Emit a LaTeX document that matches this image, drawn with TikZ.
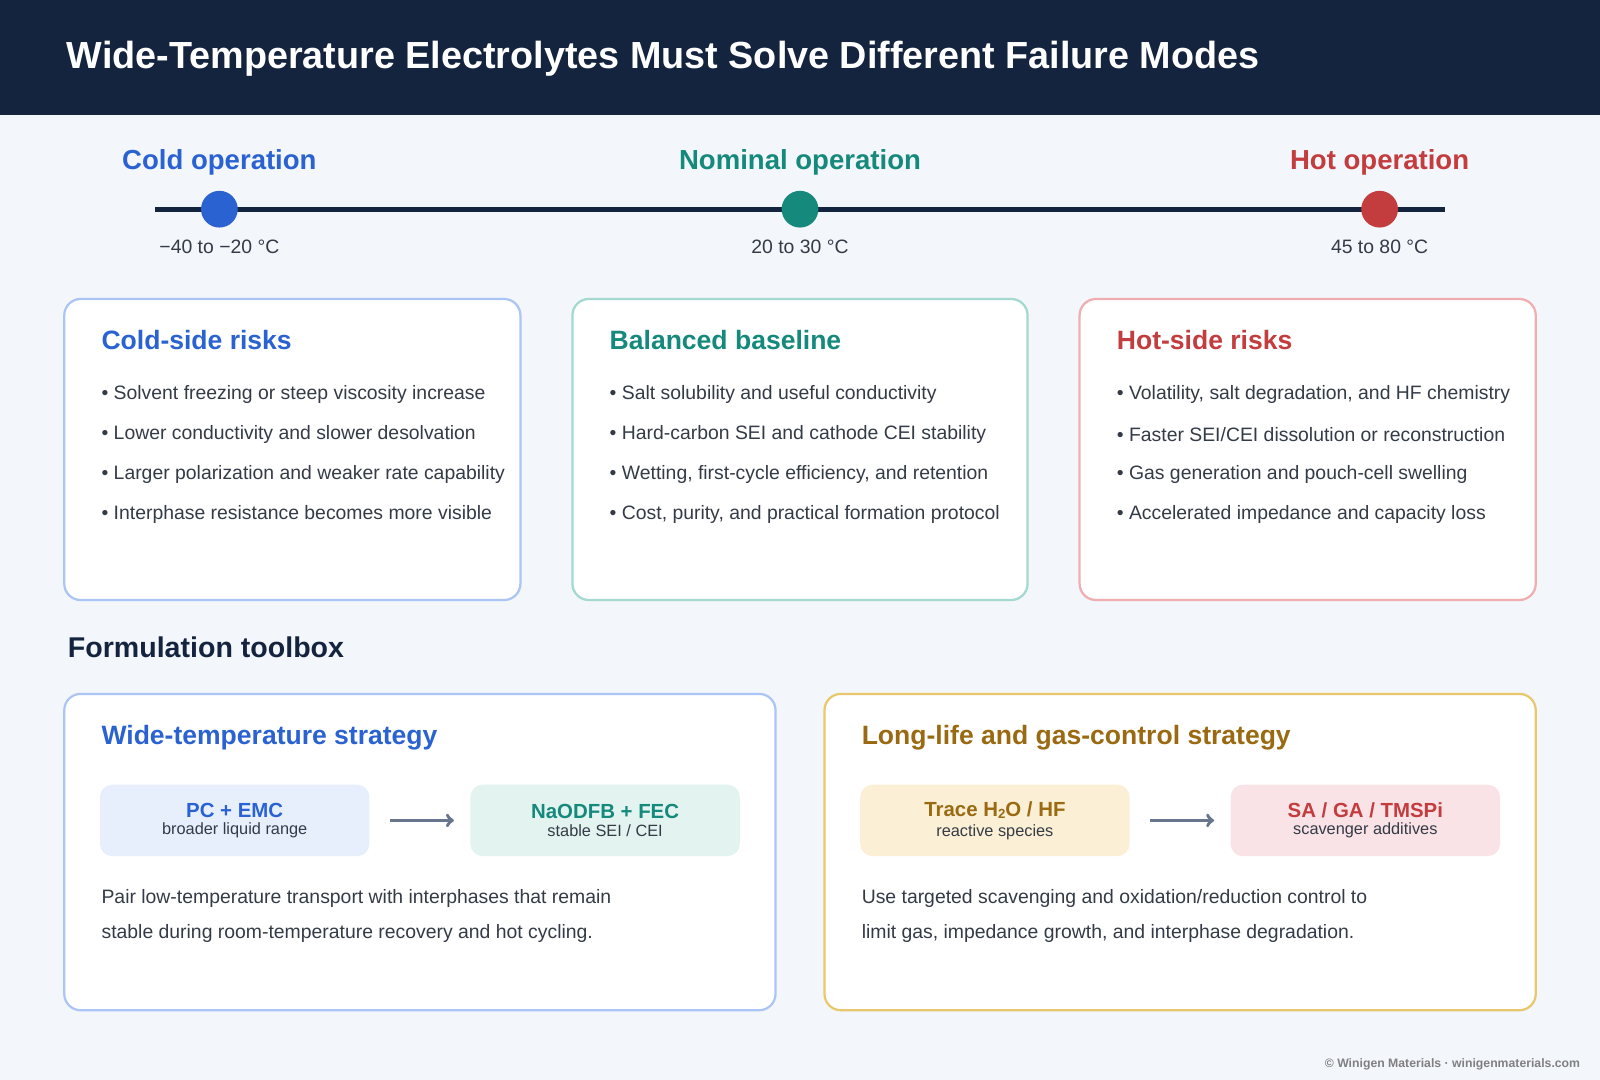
\documentclass[tikz,border=0pt]{standalone}
\usepackage{fontspec}
\setmainfont{Liberation Sans}
\usetikzlibrary{positioning}
\definecolor{navy}{HTML}{14243F}
\definecolor{pagebg}{HTML}{F3F6FB}
\definecolor{coldc}{HTML}{2A62D2}
\definecolor{nomc}{HTML}{14897C}
\definecolor{hotc}{HTML}{C33C3E}
\definecolor{goldc}{HTML}{9A6A12}
\definecolor{coldl}{HTML}{ABC5F6}
\definecolor{noml}{HTML}{A3D9D0}
\definecolor{hotl}{HTML}{F0AEB0}
\definecolor{goldl}{HTML}{E9C76C}
\definecolor{coldf}{HTML}{E7EFFD}
\definecolor{nomf}{HTML}{E3F3EF}
\definecolor{goldf}{HTML}{FBF0D5}
\definecolor{hotf}{HTML}{FAE3E6}
\definecolor{bodyc}{HTML}{333B47}
\definecolor{arrowc}{HTML}{67768C}
\tikzset{
  card/.style={draw=#1, line width=2.2pt, fill=white, rounded corners=16pt},
  cardhead/.style={anchor=west, font=\fontsize{26}{30}\selectfont\bfseries, text=#1},
  bullet/.style={anchor=west, font=\fontsize{19}{23}\selectfont, text=bodyc},
  chip/.style={fill=#1, rounded corners=12pt, minimum width=264pt, minimum height=70pt, align=center, inner sep=0pt},
  dot/.style={circle, fill=#1, minimum size=36pt, inner sep=0pt},
  temp/.style={font=\fontsize{19}{23}\selectfont, text=bodyc},
  flow/.style={->, draw=arrowc, line width=3.5pt, shorten >=2pt},
}
\newcommand{\chiptext}[3]{{\fontsize{20}{24}\selectfont\bfseries\color{#1}#2}\\[5pt]{\fontsize{16}{19}\selectfont\color{bodyc}#3}}
\begin{document}
\begin{tikzpicture}[x=1pt, y=-1pt]
\useasboundingbox (0,0) rectangle (1568,1058);
\fill[pagebg] (0,0) rectangle (1568,1058);
\fill[navy] (0,0) rectangle (1568,113);
\node[anchor=west, text=white, font=\fontsize{37}{44}\selectfont\bfseries] (title) at (62,58) {Wide-Temperature Electrolytes Must Solve Different Failure Modes};

% temperature scale
\coordinate (lineL) at (152,205);
\coordinate (lineR) at (1416,205);
\draw[navy, line width=5pt] (lineL) -- (lineR);
\node[dot=coldc] (cold) at (215,205) {};
\node[dot=nomc] (nom) at (784,205) {};
\node[dot=hotc] (hot) at (1352,205) {};
\node[above=12pt of cold, font=\fontsize{27}{32}\selectfont\bfseries, text=coldc] (coldlab) {Cold operation};
\node[above=12pt of nom, font=\fontsize{27}{32}\selectfont\bfseries, text=nomc] (nomlab) {Nominal operation};
\node[above=12pt of hot, font=\fontsize{27}{32}\selectfont\bfseries, text=hotc] (hotlab) {Hot operation};
\node[temp, below=8pt of cold] (coldT) {−40 to −20 °C};
\node[temp, below=8pt of nom] (nomT) {20 to 30 °C};
\node[temp, below=8pt of hot] (hotT) {45 to 80 °C};

% risk cards
\draw[card=coldl] (63,293) rectangle (510,588);
\draw[card=noml] (561,293) rectangle (1007,588);
\draw[card=hotl] (1058,293) rectangle (1505,588);
\node[cardhead=coldc] (coldhead) at (96,333) {Cold-side risks};
\node[cardhead=nomc] (nomhead) at (594,333) {Balanced baseline};
\node[cardhead=hotc] (hothead) at (1091,333) {Hot-side risks};
\foreach \t [count=\i] in {Solvent freezing or steep viscosity increase, Lower conductivity and slower desolvation, Larger polarization and weaker rate capability, Interphase resistance becomes more visible}
  \node[bullet] (cold\i) at (96,347+39.3*\i) {• \t};
\foreach \t [count=\i] in {Salt solubility and useful conductivity, Hard-carbon SEI and cathode CEI stability, {Wetting, first-cycle efficiency, and retention}, {Cost, purity, and practical formation protocol}}
  \node[bullet] (nom\i) at (594,347+39.3*\i) {• \t};
\foreach \t [count=\i] in {{Volatility, salt degradation, and HF chemistry}, Faster SEI/CEI dissolution or reconstruction, Gas generation and pouch-cell swelling, Accelerated impedance and capacity loss}
  \node[bullet] (hot\i) at (1091,347+39.3*\i) {• \t};

% toolbox
\node[anchor=west, font=\fontsize{28}{33}\selectfont\bfseries, text=navy] (toolbox) at (63,634) {Formulation toolbox};
\draw[card=coldl] (63,680) rectangle (760,990);
\draw[card=goldl] (808,680) rectangle (1505,990);
\node[cardhead=coldc] (widehead) at (96,723) {Wide-temperature strategy};
\node[cardhead=goldc] (longhead) at (841,723) {Long-life and gas-control strategy};
\node[chip=coldf] (pc) at (230,804) {\chiptext{coldc}{PC + EMC}{broader liquid range}};
\node[chip=nomf] (naodfb) at (593,804) {\chiptext{nomc}{NaODFB + FEC}{stable SEI / CEI}};
\node[chip=goldf] (trace) at (975,804) {\chiptext{goldc}{Trace H\raisebox{-0.2ex}{\fontsize{13}{15}\selectfont 2}O / HF}{reactive species}};
\node[chip=hotf] (sa) at (1338,804) {\chiptext{hotc}{SA / GA / TMSPi}{scavenger additives}};
\draw[flow] (pc.east) ++(20,0) coordinate (a1) -- ([xshift=-14pt]naodfb.west);
\draw[flow] (trace.east) ++(20,0) coordinate (a2) -- ([xshift=-14pt]sa.west);
\node[anchor=north west, align=left, font=\fontsize{19}{34}\selectfont, text=bodyc] (widetext) at (96,868) {Pair low-temperature transport with interphases that remain\\stable during room-temperature recovery and hot cycling.};
\node[anchor=north west, align=left, font=\fontsize{19}{34}\selectfont, text=bodyc] (longtext) at (841,868) {Use targeted scavenging and oxidation/reduction control to\\limit gas, impedance growth, and interphase degradation.};

\node[anchor=east, font=\fontsize{12}{14}\selectfont\bfseries, text=gray] (credit) at (1552,1043) {© Winigen Materials · winigenmaterials.com};
\end{tikzpicture}
\end{document}
